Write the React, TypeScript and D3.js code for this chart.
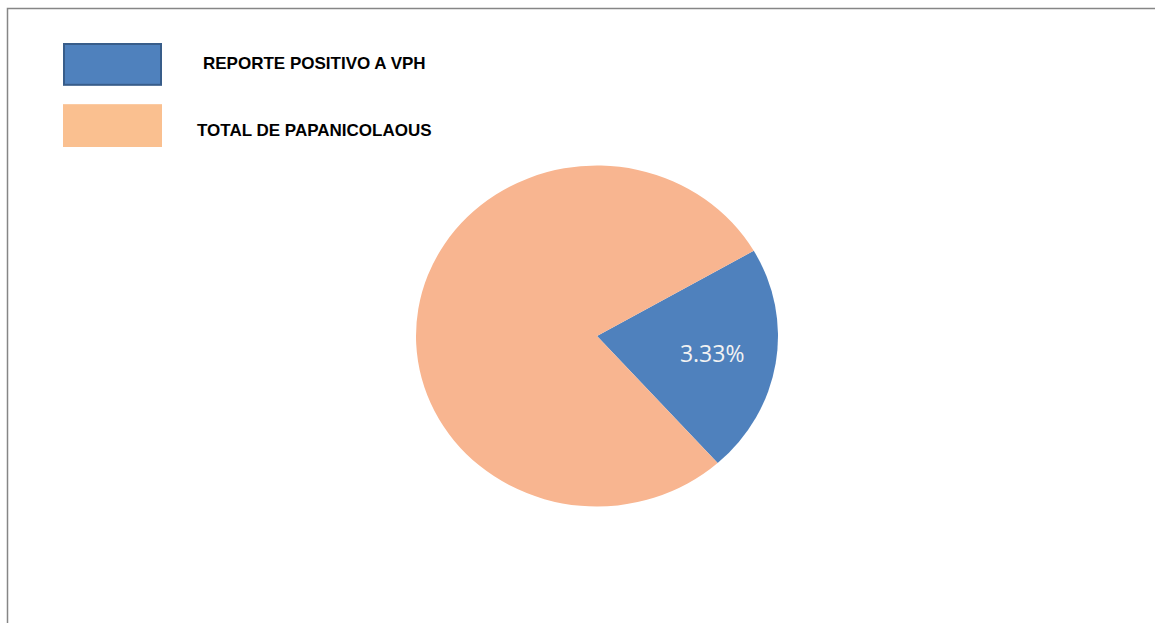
import React, { useEffect, useRef } from 'react';
import * as d3 from 'd3';

const categories = ['REPORTE POSITIVO A VPH', 'TOTAL DE PAPANICOLAOUS'];
const values = [3.33, 12];
const sliceLabels = ['3.33%', ''];
const pieColors = ['#4f81bd', '#f8b590'];
const legendColors = ['#4f81bd', '#fac090'];

export default function App() {
  const ref = useRef<SVGSVGElement | null>(null);

  useEffect(() => {
    draw();
    // eslint-disable-next-line react-hooks/exhaustive-deps
  }, []);

  function draw() {
    const svg = d3.select(ref.current);
    svg.selectAll('*').remove();
    const width = 1155;
    const height = 623;

    // chart border (only top and left visible)
    svg.append('path')
      .attr('d', `M7.5,${height} L7.5,8.5 L${width},8.5`)
      .attr('fill', 'none')
      .attr('stroke', '#868686')
      .attr('stroke-width', 1.5);

    // pie
    const cx = 597;
    const cy = 336;
    const rx = 181;
    const ry = 170.5;
    const data = categories.map((c, i) => ({ key: c, value: values[i], label: sliceLabels[i] }));
    const start = (60 * Math.PI) / 180;
    const pie = d3.pie<any>()
      .value((d) => d.value)
      .sort(null)
      .startAngle(start)
      .endAngle(start + 2 * Math.PI);
    const arcs = pie(data);
    const arc = d3.arc<any>().innerRadius(0).outerRadius(rx);
    const g = svg.append('g').attr('transform', `translate(${cx},${cy})`);
    g.append('g')
      .attr('transform', `scale(1, ${ry / rx})`)
      .selectAll('path')
      .data(arcs)
      .join('path')
      .attr('d', arc)
      .attr('fill', (d, i) => pieColors[i]);

    const labelArc = d3.arc<any>().innerRadius(rx * 0.65).outerRadius(rx * 0.65);
    g.selectAll('.slice-label')
      .data(arcs.filter((d) => d.data.label))
      .join('text')
      .attr('class', 'slice-label')
      .attr('x', (d) => labelArc.centroid(d)[0] - 1)
      .attr('y', (d) => labelArc.centroid(d)[1] * (ry / rx))
      .attr('dy', '0.35em')
      .attr('text-anchor', 'middle')
      .attr('font-family', '"Open Sans", sans-serif')
      .attr('font-size', 23)
      .attr('fill', '#f2f2f2')
      .text((d) => d.data.label);

    // legend
    const legendY = d3.scaleBand().domain(categories).range([43, 147]).paddingInner(0.3);
    const legend = svg.append('g');
    const item = legend.selectAll('g')
      .data(categories)
      .join('g')
      .attr('transform', (d) => `translate(63,${legendY(d)})`);
    item.append('rect')
      .attr('x', (d, i) => (i === 0 ? 1 : 0))
      .attr('y', (d, i) => (i === 0 ? 1 : 0))
      .attr('width', (d, i) => (i === 0 ? 97 : 99))
      .attr('height', (d, i) => legendY.bandwidth() - (i === 0 ? 2 : 0))
      .attr('fill', (d, i) => legendColors[i])
      .attr('stroke', (d, i) => (i === 0 ? '#385d8a' : 'none'))
      .attr('stroke-width', 2);
    item.append('text')
      .attr('x', (d, i) => (i === 0 ? 140 : 134))
      .attr('y', (d, i) => legendY.bandwidth() / 2 + (i === 0 ? -1.5 : 4))
      .attr('dy', '0.35em')
      .attr('font-family', '"Liberation Sans", Arial, sans-serif')
      .attr('font-weight', 'bold')
      .attr('font-size', 17)
      .attr('fill', '#000')
      .text((d) => d);
  }

  return (
    <div style={{ position: 'absolute', left: 0, top: 0 }}>
      <svg ref={ref} width={1155} height={623} style={{ display: 'block' }}></svg>
    </div>
  );
}
